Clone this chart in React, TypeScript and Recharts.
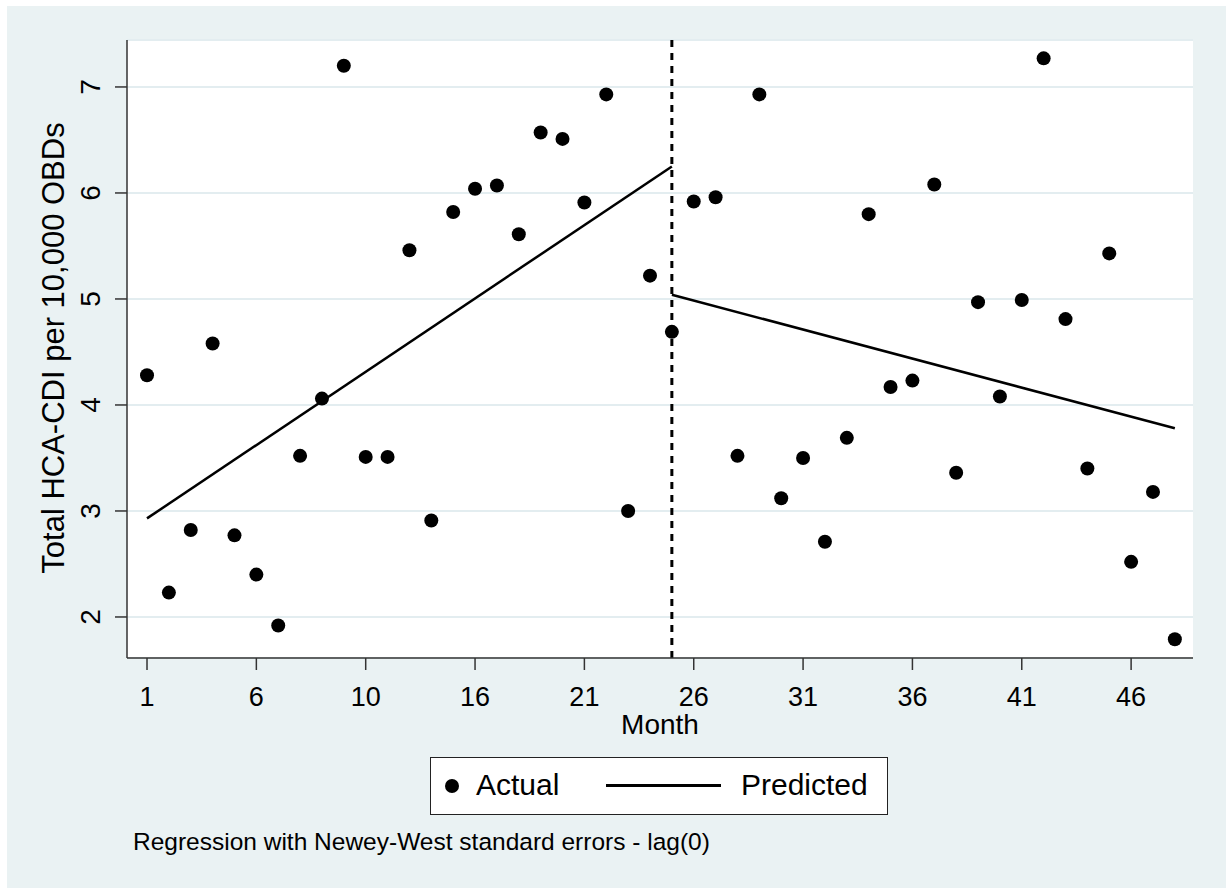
import {
  ScatterChart,
  Scatter,
  XAxis,
  YAxis,
  CartesianGrid,
  ReferenceLine,
  Label,
} from "recharts";

// months of observation
const months = [
  1, 2, 3, 4, 5, 6, 7, 8, 9, 10, 11, 12, 13, 14, 15, 16, 17, 18, 19, 20, 21, 22, 23, 24,
  25, 26, 27, 28, 29, 30, 31, 32, 33, 34, 35, 36, 37, 38, 39, 40, 41, 42, 43, 44, 45, 46,
  47, 48,
];

// actual HCA-CDI rate per 10,000 OBDs
const actualRates = [
  4.28, 2.23, 2.82, 4.58, 2.77, 2.4, 1.92, 3.52, 4.06, 7.2, 3.51, 3.51, 5.46, 2.91, 5.82,
  6.04, 6.07, 5.61, 6.57, 6.51, 5.91, 6.93, 3.0, 5.22, 4.69, 5.92, 5.96, 3.52, 6.93, 3.12,
  3.5, 2.71, 3.69, 5.8, 4.17, 4.23, 6.08, 3.36, 4.97, 4.08, 4.99, 7.27, 4.81, 3.4, 5.43,
  2.52, 3.18, 1.79,
];

// predicted (segmented regression), before and after the break
const preMonths = [1, 25];
const preRates = [2.93, 6.25];
const postMonths = [25, 48];
const postRates = [5.04, 3.78];

const breakMonth = 25;

const xTicks = [1, 6, 11, 16, 21, 26, 31, 36, 41, 46];
const xTickLabels = ["1", "6", "10", "16", "21", "26", "31", "36", "41", "46"];
const yTicks = [2, 3, 4, 5, 6, 7];

const actualData = months.map((m, i) => ({ month: m, rate: actualRates[i] }));
const preData = preMonths.map((m, i) => ({ month: m, rate: preRates[i] }));
const postData = postMonths.map((m, i) => ({ month: m, rate: postRates[i] }));

const FONT = "'Liberation Sans', Arial, sans-serif";
const BG = "#EAF2F3";

const Dot = (props: any) => <circle cx={props.cx} cy={props.cy} r={7} fill="#000" />;
const NoDot = () => <g />;

const XTick = (props: any) => {
  const { x, payload } = props;
  const idx = xTicks.indexOf(payload.value);
  return (
    <text x={x} y={706} textAnchor="middle" fontSize={27} fill="#000" fontFamily={FONT}>
      {idx >= 0 ? xTickLabels[idx] : payload.value}
    </text>
  );
};

const YTick = (props: any) => {
  const { y, payload } = props;
  return (
    <text
      x={100}
      y={y}
      transform={`rotate(-90 100 ${y})`}
      textAnchor="middle"
      fontSize={28}
      fill="#000"
      fontFamily={FONT}
    >
      {payload.value}
    </text>
  );
};

const App = () => {
  return (
    <div style={{ position: "absolute", left: 0, top: 0, width: 1226, height: 888, background: "#fff" }}>
      <div style={{ position: "absolute", left: 7, top: 6, width: 1219, height: 882, background: BG }} />
      <div style={{ position: "absolute", left: 0, top: 0 }}>
        <ScatterChart width={1226} height={888} margin={{ top: 40, right: 33, left: 0, bottom: 130 }}>
          <CartesianGrid vertical={false} fill="#fff" fillOpacity={1} stroke="#E3EDF0" strokeWidth={2} />
          <XAxis
            type="number"
            dataKey="month"
            domain={[0.085, 48.83]}
            ticks={xTicks}
            allowDataOverflow
            height={100}
            tickSize={12}
            axisLine={{ stroke: "#333", strokeWidth: 1.5 }}
            tickLine={{ stroke: "#333", strokeWidth: 1.5 }}
            tick={<XTick />}
          >
            <Label
              content={() => (
                <text x={660} y={734} textAnchor="middle" fontSize={28} fill="#000" fontFamily={FONT}>
                  Month
                </text>
              )}
            />
          </XAxis>
          <YAxis
            type="number"
            dataKey="rate"
            domain={[1.613, 7.443]}
            ticks={yTicks}
            allowDataOverflow
            width={127}
            tickSize={12}
            axisLine={{ stroke: "#333", strokeWidth: 1.5 }}
            tickLine={{ stroke: "#333", strokeWidth: 1.5 }}
            tick={<YTick />}
          >
            <Label
              content={() => (
                <text
                  x={64}
                  y={348}
                  transform="rotate(-90 64 348)"
                  textAnchor="middle"
                  fontSize={31}
                  fill="#000"
                  fontFamily={FONT}
                >
                  Total HCA-CDI per 10,000 OBDs
                </text>
              )}
            />
          </YAxis>
          <ReferenceLine x={breakMonth} stroke="#000" strokeWidth={3} strokeDasharray="7 6" />
          <Scatter
            data={preData}
            line={{ stroke: "#000", strokeWidth: 2.5 }}
            shape={<NoDot />}
            isAnimationActive={false}
          />
          <Scatter
            data={postData}
            line={{ stroke: "#000", strokeWidth: 2.5 }}
            shape={<NoDot />}
            isAnimationActive={false}
          />
          <Scatter data={actualData} shape={<Dot />} isAnimationActive={false} />
        </ScatterChart>
      </div>
      <div
        style={{
          position: "absolute",
          left: 430,
          top: 757,
          width: 456,
          height: 56,
          background: "#fff",
          border: "1.5px solid #222",
          fontFamily: FONT,
          fontSize: 30,
          color: "#000",
        }}
      >
        <div style={{ position: "absolute", left: 14, top: 21, width: 14, height: 14, borderRadius: 7, background: "#000" }} />
        <div style={{ position: "absolute", left: 45, top: 10, lineHeight: "34px" }}>Actual</div>
        <div style={{ position: "absolute", left: 175, top: 26, width: 115, height: 3, background: "#000" }} />
        <div style={{ position: "absolute", left: 310, top: 10, lineHeight: "34px" }}>Predicted</div>
      </div>
      <div
        style={{
          position: "absolute",
          left: 133,
          top: 827,
          fontFamily: FONT,
          fontSize: 24.5,
          color: "#000",
          lineHeight: "30px",
          whiteSpace: "nowrap",
        }}
      >
        Regression with Newey-West standard errors - lag(0)
      </div>
    </div>
  );
};

export default App;
